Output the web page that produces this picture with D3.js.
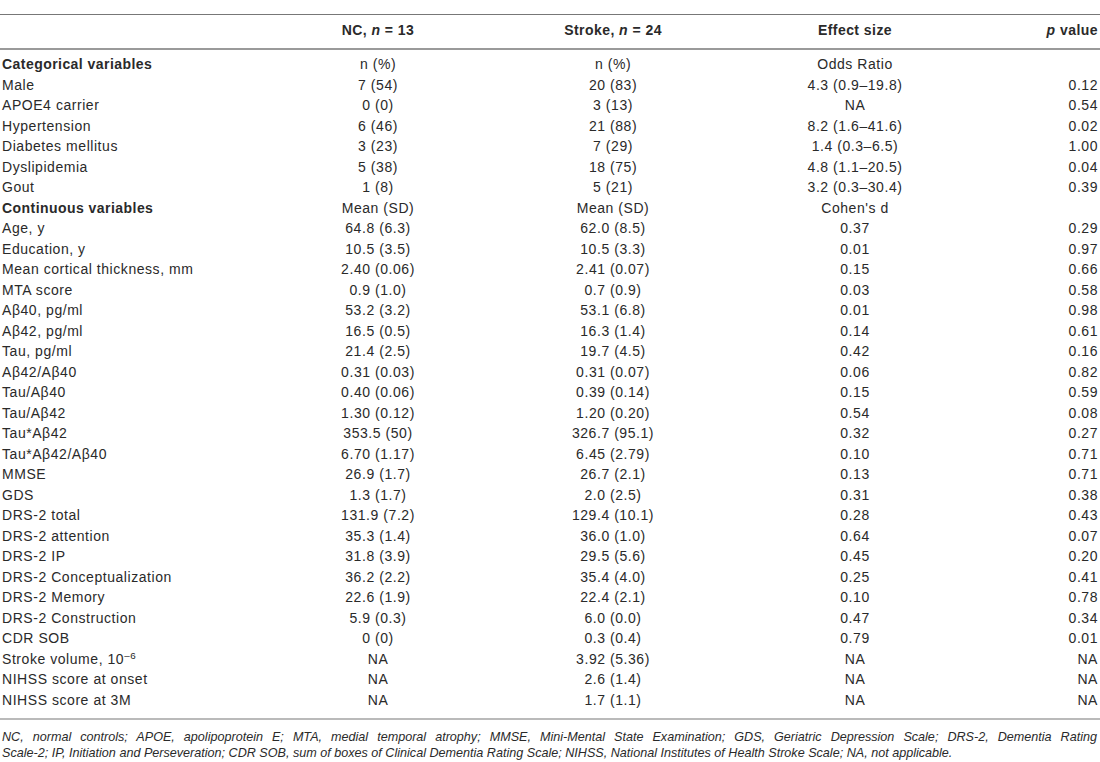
<!DOCTYPE html>
<html>
<head>
<meta charset="utf-8">
<script src="https://cdn.jsdelivr.net/npm/d3@7/dist/d3.min.js"></script>
<style>
  html, body { margin: 0; padding: 0; background: #fff; }
  svg { display: block; }
  text { font-family: "Liberation Sans", Arial, Helvetica, sans-serif; fill: #2a2a2a; }
</style>
</head>
<body>
<svg id="chart" width="1100" height="762"></svg>
<script>
// ---- data ----
const columnHeaders = ["NC, n = 13", "Stroke, n = 24", "Effect size", "p value"];
const rowLabels = [
  "Categorical variables", "Male", "APOE4 carrier", "Hypertension", "Diabetes mellitus",
  "Dyslipidemia", "Gout", "Continuous variables", "Age, y", "Education, y",
  "Mean cortical thickness, mm", "MTA score", "Aβ40, pg/ml", "Aβ42, pg/ml", "Tau, pg/ml",
  "Aβ42/Aβ40", "Tau/Aβ40", "Tau/Aβ42", "Tau*Aβ42", "Tau*Aβ42/Aβ40", "MMSE", "GDS",
  "DRS-2 total", "DRS-2 attention", "DRS-2 IP", "DRS-2 Conceptualization", "DRS-2 Memory",
  "DRS-2 Construction", "CDR SOB", "Stroke volume, 10–6", "NIHSS score at onset", "NIHSS score at 3M"
];
const sectionRows = ["Categorical variables", "Continuous variables"];
const ncValues = [
  "n (%)", "7 (54)", "0 (0)", "6 (46)", "3 (23)", "5 (38)", "1 (8)", "Mean (SD)",
  "64.8 (6.3)", "10.5 (3.5)", "2.40 (0.06)", "0.9 (1.0)", "53.2 (3.2)", "16.5 (0.5)",
  "21.4 (2.5)", "0.31 (0.03)", "0.40 (0.06)", "1.30 (0.12)", "353.5 (50)", "6.70 (1.17)",
  "26.9 (1.7)", "1.3 (1.7)", "131.9 (7.2)", "35.3 (1.4)", "31.8 (3.9)", "36.2 (2.2)",
  "22.6 (1.9)", "5.9 (0.3)", "0 (0)", "NA", "NA", "NA"
];
const strokeValues = [
  "n (%)", "20 (83)", "3 (13)", "21 (88)", "7 (29)", "18 (75)", "5 (21)", "Mean (SD)",
  "62.0 (8.5)", "10.5 (3.3)", "2.41 (0.07)", "0.7 (0.9)", "53.1 (6.8)", "16.3 (1.4)",
  "19.7 (4.5)", "0.31 (0.07)", "0.39 (0.14)", "1.20 (0.20)", "326.7 (95.1)", "6.45 (2.79)",
  "26.7 (2.1)", "2.0 (2.5)", "129.4 (10.1)", "36.0 (1.0)", "29.5 (5.6)", "35.4 (4.0)",
  "22.4 (2.1)", "6.0 (0.0)", "0.3 (0.4)", "3.92 (5.36)", "2.6 (1.4)", "1.7 (1.1)"
];
const effectValues = [
  "Odds Ratio", "4.3 (0.9–19.8)", "NA", "8.2 (1.6–41.6)", "1.4 (0.3–6.5)", "4.8 (1.1–20.5)",
  "3.2 (0.3–30.4)", "Cohen's d", "0.37", "0.01", "0.15", "0.03", "0.01", "0.14", "0.42",
  "0.06", "0.15", "0.54", "0.32", "0.10", "0.13", "0.31", "0.28", "0.64", "0.45", "0.25",
  "0.10", "0.47", "0.79", "NA", "NA", "NA"
];
const pValues = [
  "", "0.12", "0.54", "0.02", "1.00", "0.04", "0.39", "", "0.29", "0.97", "0.66", "0.58",
  "0.98", "0.61", "0.16", "0.82", "0.59", "0.08", "0.27", "0.71", "0.71", "0.38", "0.43",
  "0.07", "0.20", "0.41", "0.78", "0.34", "0.01", "NA", "NA", "NA"
];
const footnoteLines = [
  "NC, normal controls; APOE, apolipoprotein E; MTA, medial temporal atrophy; MMSE, Mini-Mental State Examination; GDS, Geriatric Depression Scale; DRS-2, Dementia Rating",
  "Scale-2; IP, Initiation and Perseveration; CDR SOB, sum of boxes of Clinical Dementia Rating Scale; NIHSS, National Institutes of Health Stroke Scale; NA, not applicable."
];

// ---- layout ----
const W = 1100;
const svg = d3.select("#chart");
const fs = 14;
const ls = 0.55;

const y = d3.scalePoint().domain(d3.range(rowLabels.length)).range([64.5, 700]);
const colKeys = ["label", "nc", "stroke", "effect", "p"];
const colX = d3.scaleOrdinal().domain(colKeys).range([2, 378, 613, 855, 1098]);
const colAnchor = d3.scaleOrdinal().domain(colKeys).range(["start", "middle", "middle", "middle", "end"]);

// rules
const rules = [
  { y: 14.5, c: "#777", w: 1.2 },
  { y: 49, c: "#9a9a9a", w: 2 },
  { y: 719, c: "#777", w: 1.2 }
];
svg.selectAll("line.rule").data(rules).join("line")
  .attr("class", "rule")
  .attr("x1", 0).attr("x2", W)
  .attr("y1", d => d.y).attr("y2", d => d.y)
  .attr("stroke", d => d.c).attr("stroke-width", d => d.w);

// header
const hy = 30;
const hg = svg.append("g").attr("font-weight", "bold").attr("font-size", fs).attr("letter-spacing", 0.45);
function header(key, parts) {
  const t = hg.append("text").attr("x", colX(key)).attr("y", hy).attr("dy", "0.35em")
    .attr("text-anchor", colAnchor(key));
  parts.forEach(p => t.append("tspan").text(p.t).attr("font-style", p.i ? "italic" : null));
}
header("nc", [{ t: "NC, " }, { t: "n", i: true }, { t: " = 13" }]);
header("stroke", [{ t: "Stroke, " }, { t: "n", i: true }, { t: " = 24" }]);
header("effect", [{ t: "Effect size" }]);
header("p", [{ t: "p", i: true }, { t: " value" }]);

// body rows
const rows = rowLabels.map((lab, i) => ({
  i, label: lab, nc: ncValues[i], stroke: strokeValues[i], effect: effectValues[i], p: pValues[i],
  section: sectionRows.includes(lab)
}));
const rg = svg.append("g").attr("font-size", fs);
const rowG = rg.selectAll("g.row").data(rows).join("g").attr("class", "row")
  .attr("transform", d => `translate(0,${y(d.i)})`);

colKeys.forEach(key => {
  rowG.append("text")
    .attr("x", colX(key))
    .attr("dy", "0.35em")
    .attr("text-anchor", colAnchor(key))
    .attr("letter-spacing", d => (key === "label" && d.section) ? 0.45 : ls)
    .attr("font-weight", d => (key === "label" && d.section) ? "bold" : null)
    .each(function (d) {
      const t = d3.select(this);
      const s = d[key];
      if (key === "label" && s.startsWith("Stroke volume")) {
        t.append("tspan").text("Stroke volume, 10");
        t.append("tspan").text("–6").attr("font-size", fs * 0.7).attr("dy", "-0.5em");
      } else {
        t.text(s);
      }
    });
});

// footnote (first line justified to full width)
const fn = svg.append("g").attr("font-size", 12.6).attr("font-style", "italic")
  .selectAll("text").data(footnoteLines).join("text")
  .attr("x", 2)
  .attr("y", (d, i) => 737 + i * 15.5)
  .attr("dy", "0.35em")
  .text(d => d);
fn.filter((d, i) => i === 0).each(function (d) {
  const w = this.getComputedTextLength();
  const spaces = (d.match(/ /g) || []).length;
  d3.select(this).attr("word-spacing", Math.max(0, (1097 - 2 - w) / spaces));
});
</script>
</body>
</html>
